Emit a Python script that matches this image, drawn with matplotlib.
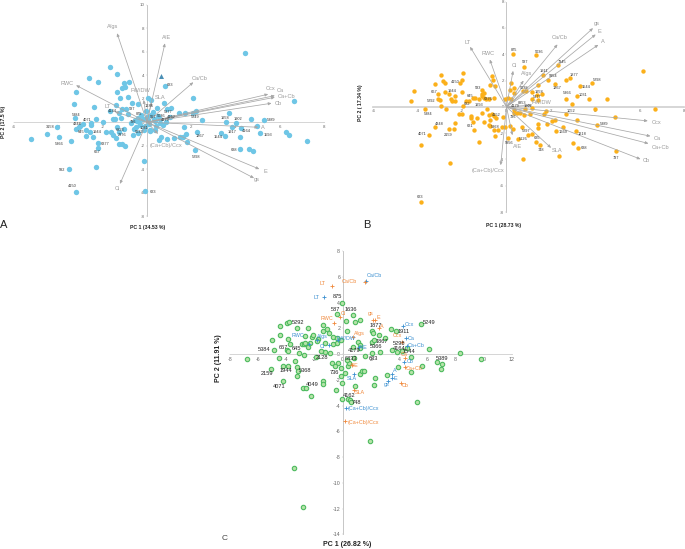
import matplotlib
matplotlib.use("Agg")
import matplotlib.pyplot as plt

plt.rcParams['font.family'] = ['Liberation Sans', 'DejaVu Sans']
plt.rcParams['axes.unicode_minus'] = False

W, H = 685, 549
GRAY = '#9a9a9a'
ID_COL = '#333333'

# Panel A
a_x = [-5.23,-4.5,-4.05,-3.98,-3.43,-3.52,-3.2,-2.3,-2.21,-2.21,-3.22,-3.29,-3.25,-2.62,-2.21,-1.68,-1.37,-1.04,-0.81,-0.99,
       -1.14,-1.34,-1.22,-0.84,-0.66,-0.41,0.05,0.2,-2.41,-1.68,-1.4,-1.14,-0.95,-1.26,-0.86,-1.17,-1.52,-1.43,-2.32,-1.98,
       -2.54,-2.51,-2.9,-3.02,-3.08,-3.2,-2.75,-2.57,-2.74,-2.44,-1.87,-1.63,-1.37,-1.02,-1.28,-1.53,-1.4,-1.27,-1.13,-1.0,
       -0.62,-0.41,-0.14,-0.08,0.35,0.14,0.65,0.54,0.89,1.2,1.49,1.64,1.76,1.82,2.17,2.24,1.68,0.59,0.84,1.04,
       1.44,1.71,2.09,2.23,2.47,2.06,0.81,0.77,0.89,1.08,0.47,4.42,6.62,7.2,6.26,6.42,5.1,4.98,5.26,4.69,
       4.23,4.2,4.02,3.82,3.58,3.7,3.35,3.52,4.21,4.6,4.8,
       -0.7,-0.55,-0.4,-0.3,-0.2,-0.1,0.0,0.1,0.2,0.3,0.4,0.5,-0.6,-0.45,-0.25,-0.15,0.05,0.15,0.25,0.35,0.6,0.7,-0.5,-0.35,-0.05]
a_y = [-1.42,-1.0,-0.43,-1.28,-1.59,-4.03,-5.91,-3.78,-1.73,-2.16,2.61,1.56,0.37,3.75,3.44,4.74,4.12,3.32,3.41,3.04,
       2.93,2.56,2.1,2.16,1.65,1.59,2.1,1.88,1.31,0.94,1.48,1.17,1.14,0.8,0.68,0.37,0.28,0.26,0.28,0.0,
       -0.09,-0.23,-0.14,-0.31,-0.43,-0.57,-0.65,-0.85,-1.16,-1.3,-0.82,-0.8,-0.37,-0.6,-0.8,-1.11,-1.34,-1.87,-1.82,-2.07,
       -1.05,-0.88,-3.35,-5.9,-0.68,-0.74,-1.22,-1.53,-1.42,-1.34,-1.28,-1.25,-0.97,-1.65,-2.41,-0.8,-0.37,-0.09,0.06,0.43,
       0.82,0.77,0.77,1.0,0.23,2.1,3.07,1.62,1.14,1.19,1.25,5.94,1.79,-1.56,-0.82,-1.08,-0.88,-0.31,0.17,0.31,
       -0.51,-1.22,-0.06,-0.4,0.0,0.77,-0.94,-1.16,-2.27,-2.3,-2.47,
       -0.1,0.2,0.35,-0.25,0.3,-0.35,0.45,-0.15,0.6,0.25,-0.3,0.5,-0.6,0.1,0.65,-0.65,0.2,-0.7,0.85,0.1,0.3,-0.2,-0.4,0.05,1.0]
a_tri = (0.62, 3.94)
a_vec = ['Ci','A/gs','A/E','Ca/Cb','Ccx','Ca','Ca+Cb','Cb','A','E','gs','RWC','FW/DW','SLA','LT','(Ca+Cb)/Ccx']
a_vec_x = [-1.22,-1.35,0.81,2.09,5.47,5.77,5.77,5.62,5.02,5.07,4.83,-3.2,-0.15,0.2,-1.45,0.5]
a_vec_y = [-5.26,7.59,6.73,3.41,2.39,2.27,2.13,1.62,-0.43,-4.0,-4.77,3.15,1.9,1.7,0.9,-1.0]
a_vec_tx = [-1.34,-1.55,0.86,2.39,5.56,6.02,6.29,5.92,5.25,5.34,4.95,-3.62,-0.3,0.59,-1.79,0.87]
a_vec_ty = [-5.65,8.15,7.24,3.69,2.9,2.67,2.19,1.62,-0.43,-4.18,-4.89,3.32,2.73,2.13,1.34,-1.96]
a_ids = ['3158','4144','587','5384','4071','4348','645','1944','5366','6377','667','592','4150','623','633','5249','1958','1902','5389','1917',
         '4164','1593','1544','1867','638','5298','1636','875','4179','4162','5377','5036','1031','6833','2376','5032','736','567']
a_id_x = [-4.35,-1.55,-0.66,-3.19,-2.69,-3.13,-2.98,-2.26,-3.98,-1.88,-2.24,-3.85,-3.35,0.29,1.05,2.17,3.5,4.12,5.62,3.82,
          4.48,5.46,3.2,2.39,3.94,2.2,0.09,-0.36,0.84,1.11,0.96,0.66,-0.12,-1.22,-1.1,-0.35,-0.62,0.29]
a_id_y = [-0.43,0.97,1.16,0.65,0.2,-0.14,-0.8,-0.8,-1.85,-1.82,-2.56,-4.06,-5.45,-5.97,3.21,0.43,0.34,0.26,0.17,-0.85,
          -0.77,-1.08,-1.22,-1.19,-2.39,-2.93,1.36,0.74,0.17,0.43,0.91,0.57,-0.51,-0.68,-1.11,-0.85,0.06,0.43]

# Panel B
b_x = [-3.87,-2.55,-3.84,-3.47,-3.2,-2.57,-2.36,-2.3,-3.66,-4.32,-4.17,-2.94,-3.24,-2.84,-2.75,-1.94,-2.01,-2.09,-2.0,-3.08,
       -3.08,-3.0,-2.93,-2.72,-2.75,-2.61,-2.33,-2.51,-2.46,-2.31,-1.97,-1.83,-1.68,-2.16,-2.0,-1.61,-1.59,-1.5,-1.44,-1.34,
       -1.1,-0.89,-1.22,-0.99,-0.8,-0.72,-0.77,-0.66,-0.56,-0.47,-0.75,-0.56,-0.39,-0.5,-1.08,-0.99,-1.1,-1.23,-1.52,-1.41,
       -1.11,-1.02,-0.66,-0.59,-0.75,-0.51,-0.56,-0.77,-0.9,-0.17,-0.21,0.08,-0.05,0.17,0.29,0.81,1.34,2.3,1.65,1.89,
       2.19,2.67,2.85,3.3,3.84,6.17,4.52,3.74,3.18,2.7,2.94,3.99,6.71,4.89,4.1,3.17,2.69,2.04,2.19,2.55,
       3.14,2.25,1.83,1.44,1.4,2.99,3.24,4.94,2.39,0.75,1.49,1.35,0.96,1.14,0.69,0.5,0.29,0.2,0.15,0.35,
       0.35,0.75,0.89,1.16,1.41,1.59,1.38,1.14,1.4,-0.08,0.06,0.2,0.36,0.32,0.47,0.62,0.77,0.84,1.14,1.79,1.67,1.07]
b_y = [-7.23,-4.24,-2.89,-2.13,-1.55,-1.65,-1.65,-1.24,-0.2,0.41,1.24,2.44,1.75,1.93,1.78,2.54,2.03,1.85,1.14,0.94,
       0.63,0.53,0.1,-0.13,1.14,0.96,0.79,0.58,0.43,0.43,0.08,0.48,0.48,-0.51,-0.51,-0.66,-0.86,-1.19,-1.73,-0.86,
       -0.46,-0.13,-2.64,-1.19,-1.4,-1.47,-0.61,-0.58,-0.69,-0.86,-1.02,-1.73,-1.73,-2.23,1.32,1.07,0.99,0.58,0.69,0.71,
       0.86,0.71,2.36,2.01,1.68,1.57,0.71,0.58,0.63,-0.74,-1.52,-2.36,-1.52,-1.47,4.01,3.02,3.93,3.2,2.44,2.08,
       1.75,2.06,2.16,1.6,1.8,2.74,0.56,0.63,0.79,0.63,0.25,-0.2,-0.13,-0.76,-1.35,-1.02,-0.51,-1.04,-1.02,-1.55,
       -1.8,-1.8,-1.32,-1.27,-1.62,-2.74,-3.12,-3.38,-3.71,-3.93,-2.94,-2.64,-2.13,-2.06,-1.5,-2.41,-1.65,1.83,1.27,1.4,
       1.09,1.19,1.22,1.12,1.65,0.96,0.91,0.63,0.51,0.56,0.71,0.61,-0.25,-0.46,-0.43,-0.46,-0.63,-0.13,-0.08,-0.33,-0.51,-0.58]
b_vec = ['gs','E','A','Ca/Cb','LT','RWC','Ci','A/gs','Ccx','Ca','Ca+Cb','Cb','SLA','A/E','(Ca+Cb)/Ccx','FW/DW']
b_vec_x = [3.9,4.02,4.14,2.3,-1.64,-0.75,0.3,0.77,6.37,6.49,6.4,6.04,2.01,0.27,-0.26,1.14]
b_vec_y = [5.99,5.51,4.72,4.75,4.57,3.6,2.74,2.0,-1.07,-2.23,-2.79,-3.98,-3.12,-2.16,-4.44,0.13]
b_vec_tx = [4.08,4.19,4.34,2.4,-1.77,-0.81,0.36,0.92,6.77,6.82,6.95,6.28,2.28,0.51,-0.83,1.59]
b_vec_ty = [6.37,5.71,4.95,5.25,4.9,4.09,3.12,2.51,-1.19,-2.39,-3.07,-4.11,-3.3,-2.99,-4.82,0.3]
b_ids = ['875','5036','587','7345','1911','1877','9354','5298','1544','1867','4150','667','1944','5292','5384','583','645','6376','632','1993',
         '5038','1958','5377','5366','1031','1052','5389','4348','4071','2159','621','5368','1669','1218','638','737','748','635','5297','5126',
         '5956','623','4152','736','4179','1902','8853']
b_id_x = [0.32,1.46,0.84,2.52,1.68,3.05,2.12,4.1,3.57,2.27,-2.3,-3.26,-2.46,-3.41,-3.54,-1.29,-1.65,-0.81,-1.8,-1.25,
          0.81,1.46,1.37,2.72,3.45,2.9,4.41,-3.05,-3.81,-2.63,-1.62,-0.5,2.55,3.41,3.51,4.92,1.55,1.38,0.87,0.74,
          0.11,-3.89,-0.44,0.29,0.39,0.98,0.71]
b_id_y = [4.34,4.16,3.38,3.45,2.72,2.39,2.31,2.01,1.5,1.42,1.9,1.14,1.17,0.41,-0.58,1.47,0.86,0.56,0.23,0.13,
          1.45,1.14,0.74,1.02,0.89,-0.28,-1.29,-1.29,-2.06,-2.13,-1.47,-1.52,-1.95,-2.03,-3.12,-3.86,-3.3,-2.34,-1.8,-2.46,
          -2.77,-6.85,-0.61,-0.79,0.08,0.08,0.3]

# Panel C
c_x = [-2.82,-3.46,1.96,5.25,-6.82,-5.07,-5.02,-4.88,-4.45,-4.43,-4.5,-4.24,-3.86,-4.21,-3.95,-3.81,-3.91,-3.76,-3.95,-3.86,
       -3.41,-3.22,-2.49,-3.24,-3.2,-3.24,-2.84,-2.58,-2.27,-3.08,-2.75,-2.89,-2.75,-2.32,-2.46,-2.7,-2.65,-2.2,-2.08,-1.73,
       -1.85,-1.4,-1.09,-0.99,-1.42,-1.37,-1.37,-0.47,-0.07,-0.05,0.36,0.52,0.62,0.88,2.2,2.3,1.25,1.37,1.54,3.17,
       3.91,4.85,5.63,6.96,6.7,7.03,8.31,9.82,6.11,4.83,5.56,3.46,3.76,2.11,2.18,2.6,3.0,-0.07,-0.38,0.71,
       1.23,0.88,0.24,0.31,2.06,2.25,1.11,1.23,1.21,0.76,-0.71,-0.43,-0.14,-0.38,-0.66,-1.25,-1.23,-0.9,-1.56,-1.89,
       -0.31,-0.73,-0.52,-0.14,0.17,-0.14,0.4,0.47,0.8,0.28,1.59,2.06,2.67,3.53,3.83,4.19,4.54]
c_y = [-11.9,-8.85,-6.78,-3.75,-0.36,-1.14,1.11,0.31,2.17,1.48,-0.31,-0.93,-0.91,-2.1,2.38,2.48,1.14,0.75,0.31,0.21,
       -0.52,2.02,2.02,-1.04,-1.29,-1.71,-2.67,-2.61,-3.26,0.08,-0.08,0.78,0.78,0.85,0.57,0.83,1.4,1.29,1.48,1.16,
       1.01,1.79,1.92,1.66,2.23,-2.1,-2.33,-2.8,-3.49,-2.23,-3.52,-3.57,-3.7,-2.51,-2.41,-1.84,-1.55,-1.29,-1.32,-1.66,
       -1.04,-1.42,-0.91,-1.19,-0.65,-0.78,0.1,-0.41,0.41,-0.26,2.36,1.94,1.79,1.81,1.6,1.5,1.24,3.99,3.11,3.0,
       2.64,2.46,2.56,1.81,0.93,1.09,0.96,0.7,0.44,0.57,1.32,1.22,1.09,0.83,0.78,0.83,0.18,0.1,0.26,-0.21,
       -0.72,-0.67,-0.93,-1.06,-1.5,-1.71,-0.93,-0.72,-0.34,-0.47,-0.16,0.1,0.16,0.31,0.18,0.26,0.49]
c_ids = ['875','587','1636','5292','5249','1877','1911','1867','5366','5384','667','645','2159','1944','5368','4071','4049','4162','748','736',
         '633','5389','1544','4179','2128','6833','5298','4164']
c_id_x = [-0.38,-0.54,0.59,-3.15,6.13,2.37,4.33,2.79,2.34,-5.56,-4.19,-3.29,-5.4,-4.05,-2.7,-4.5,-2.2,0.47,0.97,-0.59,
          2.2,7.05,4.71,0.83,-1.44,0.62,3.98,4.02]
c_id_y = [4.45,3.47,3.42,2.43,2.46,2.25,1.73,0.98,0.62,0.36,0.54,0.41,-1.48,-1.27,-1.27,-2.56,-2.33,-3.26,-3.8,-1.42,
          -0.31,-0.34,0.23,0.31,-0.28,-0.31,0.8,0.44]
c_blue = ['LT','Ca/Cb','Ccx','Ca','Ca+Cb','Cb','A','E','gs','SLA','(Ca+Cb)/Ccx','RWC','Ci','A/gs','FW/DW','A/E']
c_blue_x = [-1.33,1.66,4.31,4.5,4.54,4.38,3.48,3.48,3.2,0.78,0.24,-2.39,-0.95,-1.8,-0.31,1.16]
c_blue_y = [4.45,5.69,2.2,1.27,0.62,-0.65,-1.58,-1.84,-2.07,-1.58,-4.22,0.75,0.7,1.09,1.09,0.52]
c_blue_tx = [-1.89,2.22,4.73,4.85,5.25,4.8,3.67,3.76,3.15,0.64,1.47,-3.17,-1.47,-1.42,0.24,1.49]
c_blue_ty = [4.37,6.11,2.28,1.22,0.67,-0.57,-1.29,-1.92,-2.36,-1.92,-4.22,1.4,0.62,1.35,1.22,0.49]
c_orange = ['LT','Ca/Cb','Ci','gs','E','A','RWC','Ccx','A/gs','Ca','Ca+Cb','Cb','SLA','(Ca+Cb)/Ccx','A/E']
c_orange_x = [-0.76,1.56,-0.17,2.18,2.3,2.58,-0.59,4.24,0.76,4.45,4.43,4.17,0.83,0.17,0.64]
c_orange_y = [5.28,5.62,2.85,2.61,2.61,1.99,2.38,0.96,1.35,-0.34,-0.98,-2.28,-2.8,-5.23,-0.85]
c_orange_tx = [-1.42,0.45,0.02,1.96,2.53,2.79,-1.14,3.86,1.21,4.4,5.07,4.47,1.25,1.47,0.8]
c_orange_ty = [5.51,5.67,3.16,3.11,2.87,2.1,2.77,1.4,1.63,-0.05,-1.11,-2.41,-2.95,-5.28,-0.88]


def make_axes(fig, left, right, top, bottom, xlim, ylim, xticks, yticks, tick_size, lw=0.6, xw=None):
    ax = fig.add_axes([left / W, 1 - bottom / H, (right - left) / W, (bottom - top) / H])
    ax.set_xlim(*xlim)
    ax.set_ylim(*ylim)
    ax.patch.set_alpha(0)
    for s in ['top', 'right']:
        ax.spines[s].set_visible(False)
    ax.spines['left'].set_position('zero')
    ax.spines['bottom'].set_position('zero')
    ax.spines['left'].set_color('#bdbdbd')
    ax.spines['bottom'].set_color('#cfcfcf')
    ax.spines['left'].set_linewidth(lw)
    ax.spines['bottom'].set_linewidth(xw or lw)
    ax.set_xticks(xticks)
    ax.set_yticks(yticks)
    ax.tick_params(length=1, width=0.3, color='#bdbdbd', labelsize=tick_size, labelcolor='#666666', pad=0.8)
    return ax


def draw_vectors(ax, names, vx, vy, tx, ty, size):
    for n, x, y, lx, ly in zip(names, vx, vy, tx, ty):
        ax.annotate('', xy=(x, y), xytext=(0, 0),
                    arrowprops=dict(arrowstyle='-|>,head_length=0.18,head_width=0.08', color='#a8a8a8', lw=0.55, shrinkA=0, shrinkB=0))
        ax.text(lx, ly, n, color=GRAY, fontsize=size, ha='center', va='center')


def draw_ids(ax, ids, x, y, size, col=ID_COL):
    for t, px, py in zip(ids, x, y):
        ax.text(px, py, t, fontsize=size, color=col, ha='center', va='center', zorder=5)


fig = plt.figure(figsize=(6.85, 5.49), dpi=100)

# A
ax = make_axes(fig, 14, 324.3, 5, 216, (-6, 8), (-8, 10), range(-6, 9, 2), range(-8, 11, 2), 3.2)
ax.scatter(a_x, a_y, s=15, color='#6fc6e6', linewidths=0, zorder=3)
ax.scatter(*a_tri, s=13, color='#4a8fb5', marker='^', linewidths=0, zorder=3)
draw_vectors(ax, a_vec, a_vec_x, a_vec_y, a_vec_tx, a_vec_ty, 4.1)
draw_ids(ax, a_ids, a_id_x, a_id_y, 2.8)

# B
ax = make_axes(fig, 373.3, 684, 1.7, 212, (-6, 8), (-8, 8), range(-6, 9, 2), range(-8, 9, 2), 3.2, xw=1.2)
ax.scatter(b_x, b_y, s=10, color='#fbb01a', linewidths=0, zorder=3)
draw_vectors(ax, b_vec, b_vec_x, b_vec_y, b_vec_tx, b_vec_ty, 4.1)
draw_ids(ax, b_ids, b_id_x, b_id_y, 2.8)

# C
ax = make_axes(fig, 230, 511.7, 251, 534.3, (-8, 12), (-14, 8), range(-8, 13, 2), range(-14, 9, 2), 3.8)
ax.scatter(c_x, c_y, s=10, facecolor='#b5e3a8', edgecolor='#4dbb5f', linewidths=0.8, zorder=3)
draw_ids(ax, c_ids, c_id_x, c_id_y, 4.1, '#222222')
ax.scatter(c_blue_x, c_blue_y, s=7, marker='+', color='#3a8fd0', linewidths=0.6, zorder=4)
ax.scatter(c_orange_x, c_orange_y, s=7, marker='+', color='#f0883a', linewidths=0.6, zorder=4)
for t, x, y in zip(c_blue, c_blue_tx, c_blue_ty):
    ax.text(x, y, t, color='#3a8fd0', fontsize=3.9, ha='center', va='center', zorder=6)
for t, x, y in zip(c_orange, c_orange_tx, c_orange_ty):
    ax.text(x, y, t, color='#f0883a', fontsize=3.9, ha='center', va='center', zorder=6)

# axis titles and panel letters
bold = dict(fontweight='bold', ha='center', va='center', color='#222222')
fig.text(148 / W, 1 - 228 / H, 'PC 1 (34.53 %)', fontsize=3.7, **bold)
fig.text(4 / W, 1 - 122 / H, 'PC 2 (17.5 %)', fontsize=3.7, rotation=90, **bold)
fig.text(504 / W, 1 - 225 / H, 'PC 1 (28.73 %)', fontsize=3.7, **bold)
fig.text(361 / W, 1 - 103 / H, 'PC 2 ( 17.34 %)', fontsize=3.7, rotation=90, **bold)
fig.text(347 / W, 1 - 545 / H, 'PC 1 (26.82 %)', fontsize=5, **bold)
fig.text(219 / W, 1 - 358 / H, 'PC 2 (11.91 %)', fontsize=5, rotation=90, **bold)
fig.text(4 / W, 1 - 225 / H, 'A', fontsize=8, ha='center', va='center', color='#222222')
fig.text(367 / W, 1 - 225 / H, 'B', fontsize=8, ha='center', va='center', color='#222222')
fig.text(225 / W, 1 - 539 / H, 'C', fontsize=6, ha='center', va='center', color='#444444')

fig.savefig('out.png', dpi=100)
